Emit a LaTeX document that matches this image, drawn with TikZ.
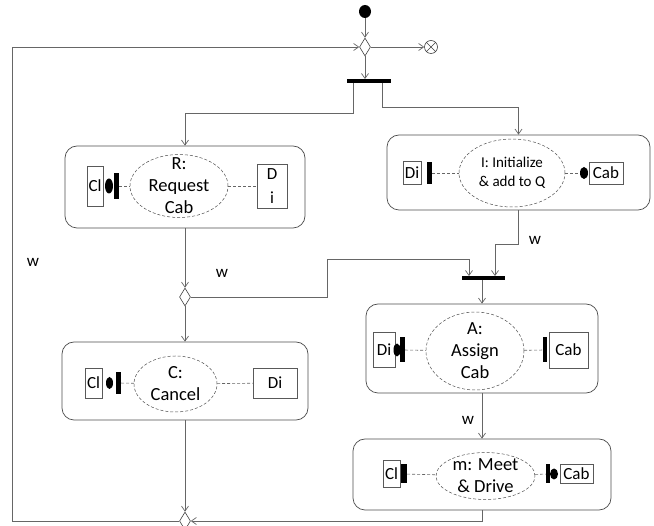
\documentclass[tikz,border=0pt]{standalone}
\usepackage{fontspec}
\setmainfont{Carlito}
\usetikzlibrary{arrows.meta,shapes.geometric}

\begin{document}
\begin{tikzpicture}[
  x=1pt, y=-1pt,
  act/.style      = {rectangle, rounded corners=12pt, draw=black!70, line width=0.7pt, inner sep=0pt},
  role/.style     = {ellipse, draw=black!70, dash pattern=on 3pt off 2pt, line width=0.5pt, inner sep=0pt},
  rolefont/.style = {align=center, font=\fontsize{18.5}{22}\selectfont},
  part/.style     = {rectangle, draw=black!65, line width=0.6pt, inner sep=0pt, font=\fontsize{17}{20}\selectfont},
  plug/.style     = {rectangle, fill=black, inner sep=0pt},
  ball/.style     = {ellipse, fill=black, inner sep=0pt},
  choice/.style   = {diamond, draw=black!75, line width=0.6pt, inner sep=0pt, minimum width=11pt, minimum height=18pt},
  flow/.style     = {-{Straight Barb[length=5pt,width=7pt]}, draw=black!60, line width=0.7pt},
  link/.style     = {draw=black!60, dash pattern=on 3pt off 2pt, line width=0.6pt},
  wlab/.style     = {font=\fontsize{17}{20}\selectfont},
]
\clip (0,0) rectangle (654,526);

% start, decision, final, first fork
\node[ball, minimum width=12pt, minimum height=13pt] (init) at (365,11.5) {};
\node[choice] (d1) at (365,47) {};
\node[circle, draw=black!75, line width=0.6pt, minimum size=13pt, inner sep=0pt] (fin) at (431,47) {};
\draw[black!75, line width=0.6pt] (fin.45) -- (fin.225) (fin.135) -- (fin.315);
\node[plug, minimum width=44pt, minimum height=3.5pt] (fork1) at (369,81) {};

% R: Request Cab
\node[act, minimum width=240pt, minimum height=82pt] (R) at (185,187) {};
\node[part, minimum width=16pt, minimum height=40pt] (Rcl) at (95,186) {Cl};
\node[ball, minimum width=8pt, minimum height=15pt] (Rball) at (109,186) {};
\node[plug, minimum width=5pt, minimum height=26pt] (Rplug) at (116.5,186) {};
\node[role, minimum width=98pt, minimum height=63pt,
      label={[rolefont]center:{R:\\Request\\Cab}}] (Rrole) at (179,186) {};
\node[part, minimum width=30pt, minimum height=44pt, align=center] (Rdi) at (272,186) {D\\[4pt]i};
\draw[link] (Rplug) -- (Rrole);
\draw[link] (Rrole) -- (Rdi);

% I: Initialize
\node[act, minimum width=263pt, minimum height=75pt] (I) at (518.5,172.5) {};
\node[part, minimum width=18pt, minimum height=23pt] (Idi) at (412,173) {Di};
\node[plug, minimum width=5pt, minimum height=22pt] (Iplug) at (429.5,173) {};
\node[role, minimum width=106pt, minimum height=68pt,
      label={[align=center, font=\fontsize{15}{19}\selectfont]center:{I: Initialize\\\& add to Q}}] (Irole) at (512,173) {};
\node[ball, minimum width=8pt, minimum height=12pt] (Iball) at (584,173) {};
\node[part, minimum width=34pt, minimum height=22pt] (Icab) at (606,173) {Cab};
\draw[link] (Iplug) -- (Irole);
\draw[link] (Irole) -- (Iball);

% merge of R and I
\node[choice] (d2) at (185,297) {};
\node[plug, minimum width=43pt, minimum height=3.5pt] (fork2) at (483.5,278) {};

% C: Cancel
\node[act, minimum width=246pt, minimum height=78pt] (C) at (185,381) {};
\node[part, minimum width=17pt, minimum height=30pt] (Ccl) at (93.5,383) {Cl};
\node[ball, minimum width=7pt, minimum height=12pt] (Cball) at (109.5,383) {};
\node[plug, minimum width=5pt, minimum height=22pt] (Cplug) at (118.5,383) {};
\node[role, minimum width=83pt, minimum height=56pt,
      label={[rolefont]center:{C:\\Cancel}}] (Crole) at (175.5,384) {};
\node[part, minimum width=44pt, minimum height=30pt] (Cdi) at (275,383) {Di};
\draw[link] (Cplug) -- (Crole);
\draw[link] (Crole) -- (Cdi);

% A: Assign Cab
\node[act, minimum width=232pt, minimum height=89pt] (A) at (482,348.5) {};
\node[part, minimum width=22pt, minimum height=35pt] (Adi) at (384,350) {Di};
\node[ball, minimum width=7pt, minimum height=13pt] (Aball) at (397,350) {};
\node[plug, minimum width=5pt, minimum height=25pt] (Aplug) at (402.5,350) {};
\node[role, minimum width=98pt, minimum height=78pt,
      label={[rolefont]center:{A:\\Assign\\Cab}}] (Arole) at (475,351) {};
\node[plug, minimum width=4pt, minimum height=25pt] (Aplug2) at (545,350) {};
\node[part, minimum width=39pt, minimum height=36pt] (Acab) at (568.5,350) {Cab};
\draw[link] (Aplug) -- (Arole);
\draw[link] (Arole) -- (Aplug2);

% m: Meet & Drive
\node[act, minimum width=258pt, minimum height=71pt] (m) at (482,474.5) {};
\node[part, minimum width=17pt, minimum height=27pt] (mcl) at (391.5,474) {Cl};
\node[plug, minimum width=6pt, minimum height=19pt] (mplug) at (404,474) {};
\node[role, minimum width=99pt, minimum height=47pt,
      label={[rolefont]center:{m: Meet\\\& Drive}}] (mrole) at (485.5,476) {};
\node[plug, minimum width=4pt, minimum height=19pt] (mplug2) at (548,474) {};
\node[ball, minimum width=8pt, minimum height=11pt] (mball) at (554,474) {};
\node[part, minimum width=33pt, minimum height=19pt] (mcab) at (576.5,474) {Cab};
\draw[link] (mplug) -- (mrole);
\draw[link] (mrole) -- (mplug2);

% final merge
\node[choice] (d3) at (185,521) {};

% guards
\node[wlab] (w1) at (33,262) {w};
\node[wlab] (w2) at (535,240) {w};
\node[wlab] (w3) at (222,273) {w};
\node[wlab] (w4) at (468,420) {w};

% control flow
\draw[flow] (init) -- (d1);
\draw[flow] (d1) -- (fin);
\draw[flow] (d1.south) -- (d1.south |- fork1.north);
\draw[flow] ([xshift=-16pt]fork1.south) -- ++(0,30.5) -| (R.north);
\draw[flow] ([xshift=13pt]fork1.south) -- ++(0,24.5) -| (I.north);
\draw[flow] (R.south) -- (d2.north);
\draw[flow] (I.south) -- ++(0,34) -| ([xshift=11.5pt]fork2.north);
\draw[flow] (d2.east) -- ++(137,0) -- ++(0,-38) -| ([xshift=-14.5pt]fork2.north);
\draw[flow] (d2.south) -- (C.north);
\draw[flow] (fork2.south -| A.north) -- (A.north);
\draw[flow] (A.south) -- (m.north);
\draw[flow] (C.south) -- (d3.north);
\draw[flow] (m.south) |- (d3.east);
\draw[flow] (d3.west) -- ++(-167,0) |- (d1.west);
\end{tikzpicture}
\end{document}
